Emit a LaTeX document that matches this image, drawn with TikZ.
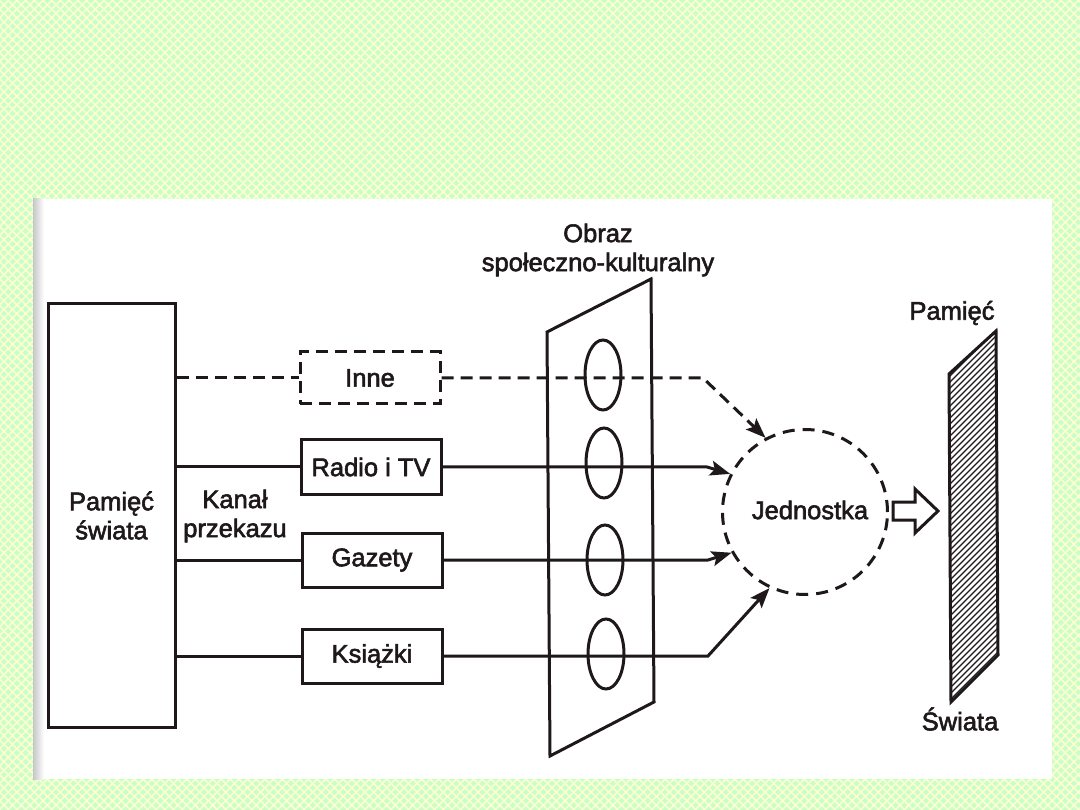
\documentclass[tikz,border=0pt]{standalone}
\usepackage{fontspec}
\setmainfont{Liberation Sans}[FakeBold=2.2]
\usetikzlibrary{arrows.meta,shapes.geometric}
\definecolor{ink}{RGB}{30,24,26}
\definecolor{bggreen}{RGB}{198,255,204}
\definecolor{bgyellow}{RGB}{255,255,204}
\tikzset{
  lw/.style={line width=3pt},
  txt/.style={text=ink, font=\fontsize{25.5pt}{29pt}\selectfont, inner sep=0pt},
  mediabox/.style={txt, draw=ink, lw, minimum width=140pt, minimum height=54pt},
  dashline/.style={dash pattern=on 12pt off 7pt},
  conn/.style={draw=ink, lw, line join=miter},
  tip/.style={-{Stealth[length=20pt,width=15pt,inset=4pt]}},
  oval/.style={ellipse, draw=ink, lw, minimum width=36pt, minimum height=70pt, inner sep=0pt},
}
\begin{document}
\begin{tikzpicture}[x=1pt,y=-1pt]
\useasboundingbox (0,0) rectangle (1080,810);
% checkered background
\fill[bggreen] (0,0) rectangle (1080,810);
\begin{scope}
\clip (0,0) rectangle (1080,810);
\foreach \i in {0,...,218} {
  \draw[bgyellow, line width=1.6pt] ({\i*8.7-810},0) -- ++(810,810);
  \draw[bgyellow, line width=1.6pt] ({\i*8.7},0) -- ++(-810,810);
}
\end{scope}
% scanned page
\fill[white] (33,199) rectangle (1052,779);
\shade[left color=black!22, right color=white] (33,199) rectangle (44,779);

% memory of the world (left)
\node[txt, draw=ink, lw, minimum width=127pt, minimum height=423pt, align=center] (pam) at (111.5,515.5) {Pamięć\\świata};
\node[txt, align=center] (kanal) at (235,516) {Kanał\\przekazu};

% media boxes
\node[mediabox, dashline, minimum height=52pt] (inne) at (370,378) {Inne};
\node[mediabox] (radio) at (371,467) {Radio i TV};
\node[mediabox] (gazety) at (372,560) {Gazety};
\node[mediabox] (ksiazki) at (372,656) {Książki};

% left connectors
\draw[conn, dashline] (pam.east |- inne.west) -- (inne.west);
\draw[conn] (pam.east |- radio.west) -- (radio.west);
\draw[conn] (pam.east |- gazety.west) -- (gazety.west);
\draw[conn] (pam.east |- ksiazki.west) -- (ksiazki.west);

% socio-cultural image (trapezoid)
\draw[draw=ink, lw, line join=miter] (547,332) -- (651,279) -- (654,702) -- (550,756) -- cycle;
\node[txt, align=center] (obraz) at (598,250) {Obraz\\społeczno-kulturalny};
\node[oval] (e1) at (603,375) {};
\node[oval] (e2) at (604,463) {};
\node[oval] (e3) at (605,560) {};
\node[oval] (e4) at (606,654) {};

% individual
\node[txt, circle, draw=ink, lw, dash pattern=on 12pt off 8pt, minimum size=165pt] (jed) at (805,512) {};
\node[txt] (jedt) at (810,510) {Jednostka};

\coordinate (b1) at (703,378);
\coordinate (b2) at (707,467);
\coordinate (b3) at (708,560);
\coordinate (b4) at (708,656);
\draw[conn, dashline, tip] (inne.east) -- (b1) -- (jed.118);
\draw[conn, tip] (radio.east) -- (b2) -- (jed.153);
\draw[conn, tip] (gazety.east) -- (b3) -- (jed.209);
\draw[conn, tip] (ksiazki.east) -- (b4) -- (jed.245);

% block arrow
\draw[draw=ink, lw, fill=white, line join=miter] (893,502) -- (915,502) -- (915,489) -- (938,511) -- (915,533) -- (915,520) -- (893,520) -- cycle;

% memory of the world (right, hatched)
\begin{scope}
\clip (949,374) -- (996,331) -- (998,655) -- (951,702) -- cycle;
\foreach \k in {0,...,80} {
  \draw[ink, line width=1.1pt] (940,{320+\k*6}) -- ++(70,-70);
}
\end{scope}
\draw[draw=ink, lw, line join=miter] (949,374) -- (996,331) -- (998,655) -- (951,702) -- cycle;
\node[txt] (pam2) at (952,313) {Pamięć};
\node[txt] (swiata) at (960,719) {Świata};
\end{tikzpicture}
\end{document}
